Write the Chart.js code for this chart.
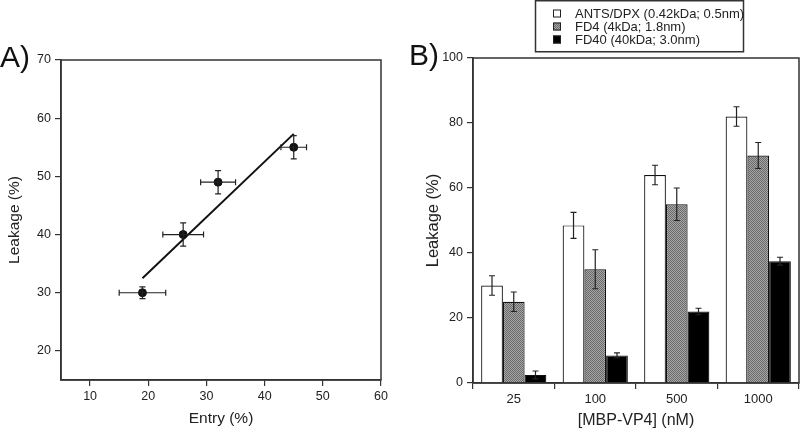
<!DOCTYPE html>
<html>
<head>
<meta charset="utf-8">
<script src="https://cdn.jsdelivr.net/npm/chart.js@4/dist/chart.umd.min.js"></script>
<style>
  body { margin: 0; background: #fff; }
  #wrap { position: relative; width: 800px; height: 431px; }
  canvas { position: absolute; top: 0; }
</style>
</head>
<body>
<div id="wrap">
  <canvas id="grafA" width="400" height="431" style="left:0"></canvas>
  <canvas id="grafB" width="400" height="431" style="left:400px"></canvas>
</div>
<script>
// Painel A: leakage vs entry
const entrada = [19, 26, 32, 45];
const entradaErro = [4, 3.5, 3, 2.2];
const vazamentoA = [30, 40, 49, 55];
const vazamentoAErro = [1, 2, 2, 2];
const retaX = [19, 45];
const retaY = [32.5, 57.3];
const ticksXA = [10, 20, 30, 40, 50, 60];
const ticksYA = [20, 30, 40, 50, 60, 70];

// Painel B: leakage por concentração
const concentracoes = ['25', '100', '500', '1000'];
const nomesSeries = ['ANTS/DPX (0.42kDa; 0.5nm)', 'FD4 (4kDa; 1.8nm)', 'FD40 (40kDa; 3.0nm)'];
const ants = [30, 48.5, 64, 82];
const antsErro = [3, 4, 3, 3];
const fd4 = [25, 35, 55, 70];
const fd4Erro = [3, 6, 5, 4];
const fd40 = [2.5, 8.5, 22, 37.5];
const fd40Erro = [1.2, 0.8, 1, 1.2];
const ticksYB = [0, 20, 40, 60, 80, 100];

const fonte = '"Liberation Sans", Arial, Helvetica, sans-serif';
const corTexto = '#222';
const corEixo = '#333';

// textura cinza dos bares FD4
function texturaCinza() {
    const c = document.createElement('canvas');
    c.width = 2; c.height = 2;
    const g = c.getContext('2d');
    g.fillStyle = '#a6a6a6'; g.fillRect(0, 0, 2, 2);
    g.fillStyle = '#6a6a6a'; g.fillRect(0, 0, 1, 1); g.fillRect(1, 1, 1, 1);
    return g.createPattern(c, 'repeat');
}

// moldura em volta da área do gráfico
const moldura = {
    id: 'moldura',
    afterDatasetsDraw(chart) {
        const a = chart.chartArea, ctx = chart.ctx;
        ctx.save();
        ctx.strokeStyle = corEixo;
        ctx.lineWidth = 1.5;
        ctx.strokeRect(a.left, a.top, a.right - a.left, a.bottom - a.top);
        ctx.restore();
    }
};

// barras de erro (x e y)
const barrasErro = {
    id: 'barrasErro',
    afterDatasetsDraw(chart) {
        const ctx = chart.ctx;
        const sx = chart.scales.x, sy = chart.scales.y;
        ctx.save();
        ctx.strokeStyle = corTexto;
        ctx.lineWidth = 1.2;
        chart.data.datasets.forEach((ds, i) => {
            const meta = chart.getDatasetMeta(i);
            meta.data.forEach((el, j) => {
                const v = ds.data[j];
                const yv = typeof v === 'object' ? v.y : v;
                const px = el.x;
                const py = sy.getPixelForValue(yv);
                const cap = 3;
                if (ds.erroY) {
                    const e = ds.erroY[j];
                    const y1 = sy.getPixelForValue(yv + e);
                    const y2 = sy.getPixelForValue(yv - e);
                    ctx.beginPath();
                    ctx.moveTo(px, y1); ctx.lineTo(px, y2);
                    ctx.moveTo(px - cap, y1); ctx.lineTo(px + cap, y1);
                    ctx.moveTo(px - cap, y2); ctx.lineTo(px + cap, y2);
                    ctx.stroke();
                }
                if (ds.erroX) {
                    const e = ds.erroX[j];
                    const x1 = sx.getPixelForValue(v.x - e);
                    const x2 = sx.getPixelForValue(v.x + e);
                    ctx.beginPath();
                    ctx.moveTo(x1, py); ctx.lineTo(x2, py);
                    ctx.moveTo(x1, py - cap); ctx.lineTo(x1, py + cap);
                    ctx.moveTo(x2, py - cap); ctx.lineTo(x2, py + cap);
                    ctx.stroke();
                }
            });
        });
        ctx.restore();
    }
};

// letra do painel
function rotulo(texto, x, y) {
    return {
        id: 'rotulo',
        afterDraw(chart) {
            const ctx = chart.ctx;
            ctx.save();
            ctx.fillStyle = '#111';
            ctx.font = '30px ' + fonte;
            ctx.textBaseline = 'alphabetic';
            ctx.fillText(texto, x, y);
            ctx.restore();
        }
    };
}

// legenda com caixa
const legendaCaixa = {
    id: 'legendaCaixa',
    afterDraw(chart) {
        const ctx = chart.ctx;
        ctx.save();
        ctx.strokeStyle = corEixo;
        ctx.lineWidth = 1.5;
        ctx.strokeRect(135.5, 0.75, 208, 51);
        ctx.font = '13px ' + fonte;
        ctx.textBaseline = 'middle';
        chart.data.datasets.forEach((ds, i) => {
            const yc = 13.5 + i * 13;
            ctx.fillStyle = ds.backgroundColor;
            ctx.fillRect(153, yc - 4, 8, 8);
            ctx.strokeStyle = '#222';
            ctx.lineWidth = 1;
            ctx.strokeRect(153.5, yc - 3.5, 7, 7);
            ctx.fillStyle = corTexto;
            ctx.fillText(ds.label, 175, yc + 0.5);
        });
        ctx.restore();
    }
};

function eixo(extra) {
    return Object.assign({
        grid: { display: true, drawOnChartArea: false, drawTicks: true, tickLength: 6, color: corEixo, lineWidth: 1.2 },
        border: { display: true, color: corEixo, width: 1.5 },
    }, extra);
}

new Chart(document.getElementById('grafA'), {
    type: 'scatter',
    data: {
        datasets: [{
            data: entrada.map((x, i) => ({ x, y: vazamentoA[i] })),
            erroX: entradaErro,
            erroY: vazamentoAErro,
            backgroundColor: '#111',
            borderColor: '#111',
            pointRadius: 4,
            pointHoverRadius: 4
        }, {
            data: retaX.map((x, i) => ({ x, y: retaY[i] })),
            showLine: true,
            borderColor: '#111',
            borderWidth: 2,
            pointRadius: 0
        }]
    },
    options: {
        responsive: false,
        animation: false,
        layout: { padding: { top: 60, right: 19, left: 0, bottom: 0 } },
        plugins: { legend: { display: false }, tooltip: { enabled: false } },
        scales: {
            x: eixo({
                type: 'linear', min: 5, max: 60,
                afterBuildTicks: s => { s.ticks = ticksXA.map(v => ({ value: v })); },
                afterFit: s => { s.height = 51; },
                ticks: { color: corTexto, font: { family: fonte, size: 12.5 }, padding: 3 },
                title: { display: true, text: 'Entry (%)', color: corTexto, font: { family: fonte, size: 15.5 }, padding: { top: 0, bottom: 3 } }
            }),
            y: eixo({
                type: 'linear', min: 15, max: 70,
                afterBuildTicks: s => { s.ticks = ticksYA.map(v => ({ value: v })); },
                afterFit: s => { s.width = 61; },
                ticks: { color: corTexto, font: { family: fonte, size: 12.5 }, padding: 4 },
                title: { display: true, text: 'Leakage (%)', color: corTexto, font: { family: fonte, size: 15.5 }, padding: { top: 5, bottom: 0 } }
            })
        }
    },
    plugins: [moldura, barrasErro, rotulo('A)', 0, 67)]
});

new Chart(document.getElementById('grafB'), {
    type: 'bar',
    data: {
        labels: concentracoes,
        datasets: [
            { label: nomesSeries[0], data: ants, erroY: antsErro, backgroundColor: '#ffffff' },
            { label: nomesSeries[1], data: fd4, erroY: fd4Erro, backgroundColor: texturaCinza() },
            { label: nomesSeries[2], data: fd40, erroY: fd40Erro, backgroundColor: '#000000' }
        ].map(d => Object.assign(d, { borderColor: '#111', borderWidth: 1.2, categoryPercentage: 0.8, barPercentage: 1.0 }))
    },
    options: {
        responsive: false,
        animation: false,
        layout: { padding: { top: 58, right: 1, left: 0, bottom: 0 } },
        plugins: { legend: { display: false }, tooltip: { enabled: false } },
        scales: {
            x: eixo({
                type: 'category', offset: true,
                grid: { display: true, offset: true, drawOnChartArea: false, drawTicks: true, tickLength: 6, color: corEixo, lineWidth: 1.2 },
                afterFit: s => { s.height = 48; },
                ticks: { color: corTexto, font: { family: fonte, size: 13 }, padding: 3 },
                title: { display: true, text: '[MBP-VP4] (nM)', color: corTexto, font: { family: fonte, size: 16 }, padding: { top: 0, bottom: 1 } }
            }),
            y: eixo({
                type: 'linear', min: 0, max: 100,
                afterBuildTicks: s => { s.ticks = ticksYB.map(v => ({ value: v })); },
                afterFit: s => { s.width = 73; },
                ticks: { color: corTexto, font: { family: fonte, size: 12.5 }, padding: 4 },
                title: { display: true, text: 'Leakage (%)', color: corTexto, font: { family: fonte, size: 16.5 }, padding: { top: 24, bottom: 0 } }
            })
        }
    },
    plugins: [moldura, barrasErro, legendaCaixa, rotulo('B)', 9, 65)]
});
</script>
</body>
</html>
